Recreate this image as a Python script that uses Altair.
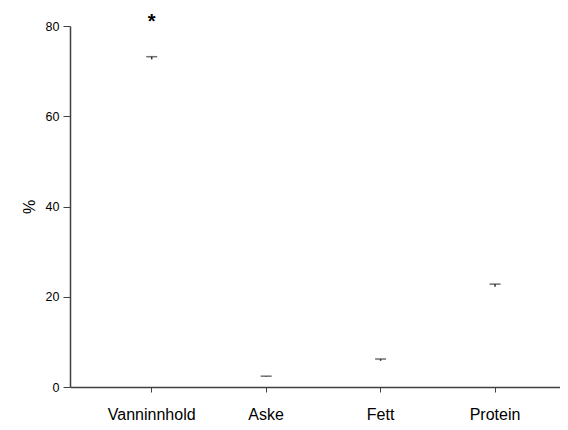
import altair as alt
import pandas as pd

categories = ["Vanninnhold", "Aske", "Fett", "Protein"]
means = [72.6, 2.25, 5.8, 22.2]
upper = [73.2, 2.4, 6.2, 22.8]
star_cat = ["Vanninnhold"]
star_y = [79.6]

df = pd.DataFrame({"cat": categories, "mean": means, "upper": upper})
sdf = pd.DataFrame({"cat": star_cat, "y": star_y, "t": ["*"]})

xscale = alt.Scale(paddingInner=0, paddingOuter=0.1407, align=0.76)
xenc = alt.X("cat:N", sort=categories, title=None, scale=xscale,
             axis=alt.Axis(labelAngle=0, labelFontSize=16, labelPadding=14,
                           tickSize=5, domainColor="#404040", tickColor="#404040",
                           labelColor="black", labelFont="Liberation Sans", grid=False))
yscale = alt.Scale(domain=[0, 80], nice=False)
yaxis = alt.Axis(values=[0, 20, 40, 60, 80], title="%", titleFontSize=16,
                 titleFontWeight="normal", titleFont="Liberation Sans",
                 titlePadding=8, labelFontSize=12.5, labelFont="Liberation Sans",
                 labelColor="black", tickSize=7, domainColor="#404040",
                 tickColor="#404040", grid=False, labelPadding=4)

base = alt.Chart(df)
stem = base.mark_rule(color="#333333", strokeWidth=1.5).encode(
    x=xenc, y=alt.Y("mean:Q", scale=yscale, axis=yaxis), y2="upper:Q")
cap = base.mark_tick(color="#333333", size=11, thickness=1.5).encode(
    x=alt.X("cat:N", sort=categories, scale=xscale), y=alt.Y("upper:Q", scale=yscale))
star = alt.Chart(sdf).mark_text(fontSize=20, font="Liberation Sans", fontWeight="bold",
                                color="black", baseline="alphabetic", clip=False).encode(
    x=alt.X("cat:N", sort=categories, scale=xscale), y=alt.Y("y:Q", scale=yscale), text="t:N")

chart = alt.layer(stem, cap, star).properties(
    width=490, height=361,
    autosize=alt.AutoSizeParams(type="none"),
    padding={"left": 62, "top": 18, "right": 0, "bottom": 34},
).configure_view(stroke=None).configure_axisX(domainWidth=1.5).configure_axisY(domainWidth=1.5)

chart.save("out.html", embed_options={"renderer": "svg", "actions": False})
